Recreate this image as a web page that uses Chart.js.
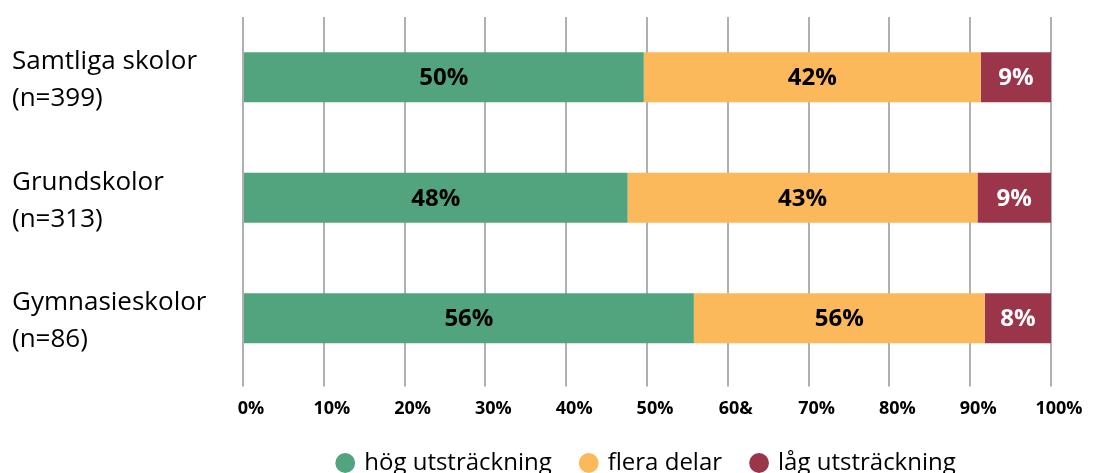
<!DOCTYPE html>
<html>
<head>
<meta charset="utf-8">
<script src="https://cdn.jsdelivr.net/npm/chart.js@4.4.1/dist/chart.umd.min.js"></script>
<style>
  html, body { margin: 0; padding: 0; background: #fff; }
  #wrap { width: 1093px; height: 473px; }
</style>
</head>
<body>
<div id="wrap"><canvas id="chart" width="1093" height="473"></canvas></div>
<script>
// Data
const categories = [['Samtliga skolor', '(n=399)'], ['Grundskolor', '(n=313)'], ['Gymnasieskolor', '(n=86)']];
const seriesNames = ['hög utsträckning', 'flera delar', 'låg utsträckning'];
const hogValues = [49.6, 47.6, 55.8];
const fleraValues = [41.7, 43.3, 36.0];
const lagValues = [8.7, 9.1, 8.2];
// bar labels as printed in the original (incl. its typo)
const hogLabels = ['50%', '48%', '56%'];
const fleraLabels = ['42%', '43%', '56%'];
const lagLabels = ['9%', '9%', '8%'];
const tickLabels = ['0%', '10%', '20%', '30%', '40%', '50%', '60&', '70%', '80%', '90%', '100%'];

const colors = ['#52a47e', '#fbb95c', '#9b354a'];
const labelColors = ['#000', '#000', '#fff'];
const FONT = "'Open Sans', sans-serif";

// Draw the value text in the middle of each bar segment
const barLabels = {
    id: 'barLabels',
    afterDatasetsDraw(chart) {
        const ctx = chart.ctx;
        ctx.save();
        ctx.font = "bold 24px " + FONT;
        ctx.textAlign = 'center';
        ctx.textBaseline = 'middle';
        chart.data.datasets.forEach((ds, i) => {
            chart.getDatasetMeta(i).data.forEach((bar, j) => {
                const x = (bar.x + bar.base) / 2;
                ctx.fillStyle = labelColors[i];
                ctx.fillText(ds.valueLabels[j], x, bar.y + 1);
            });
        });
        ctx.restore();
    }
};

// Centre the legend under the plot area and pull it up a little
const legendUnderPlot = {
    id: 'legendUnderPlot',
    afterLayout(chart) {
        const lg = chart.legend;
        const w = lg.right - lg.left;
        const mid = (chart.chartArea.left + chart.chartArea.right) / 2;
        lg.left = mid - w / 2;
        lg.right = mid + w / 2;
        lg.top -= 11;
        lg.bottom -= 11;
    }
};

new Chart(document.getElementById('chart'), {
    type: 'bar',
    data: {
        labels: categories,
        datasets: [
            { label: seriesNames[0], data: hogValues, valueLabels: hogLabels, backgroundColor: colors[0] },
            { label: seriesNames[1], data: fleraValues, valueLabels: fleraLabels, backgroundColor: colors[1] },
            { label: seriesNames[2], data: lagValues, valueLabels: lagLabels, backgroundColor: colors[2] }
        ]
    },
    options: {
        indexAxis: 'y',
        responsive: false,
        animation: false,
        layout: { padding: { left: 12, right: 42, top: 17, bottom: -23 } },
        datasets: { bar: { barPercentage: 0.83, categoryPercentage: 0.5 } },
        scales: {
            x: {
                stacked: true,
                min: 0,
                max: 100,
                border: { display: false },
                grid: { color: '#b0b0b0', lineWidth: 2, tickLength: 8, drawTicks: true },
                ticks: {
                    stepSize: 10,
                    padding: 12,
                    labelOffset: 8,
                    color: '#000',
                    font: { family: FONT, size: 18, weight: 'bold' },
                    callback: (v, i) => tickLabels[i]
                }
            },
            y: {
                stacked: true,
                border: { display: false },
                grid: { display: false },
                afterFit: scale => {
                    scale.width = 231;
                    scale.paddingTop = 0;
                    scale.paddingBottom = 0;
                },
                ticks: {
                    crossAlign: 'far',
                    labelOffset: 3,
                    color: '#000',
                    font: { family: FONT, size: 26, lineHeight: 1.42 }
                }
            }
        },
        plugins: {
            tooltip: { enabled: false },
            legend: {
                position: 'bottom',
                labels: {
                    usePointStyle: true,
                    pointStyle: 'circle',
                    boxWidth: 14,
                    boxHeight: 14,
                    padding: 30,
                    color: '#000',
                    font: { family: FONT, size: 24 }
                }
            }
        }
    },
    plugins: [barLabels, legendUnderPlot]
});
</script>
</body>
</html>
